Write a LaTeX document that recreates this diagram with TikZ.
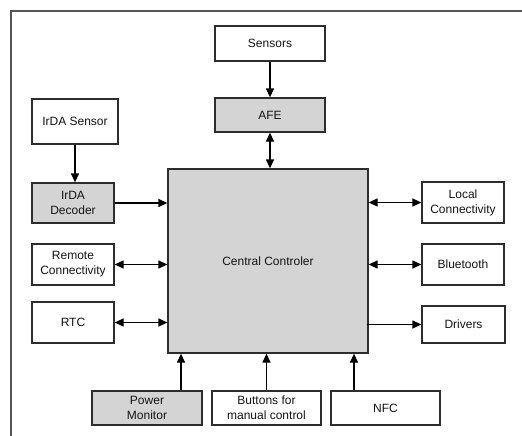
\documentclass[tikz,border=0pt]{standalone}
\usepackage{fontspec}
\setmainfont{Liberation Sans}
\usetikzlibrary{arrows.meta}
\definecolor{boxgray}{RGB}{212,212,212}
\definecolor{edge}{RGB}{45,45,45}
\definecolor{framegray}{RGB}{85,85,85}
\tikzset{
  blk/.style={draw=edge, line width=1.3pt, fill=white, align=center, inner sep=1pt,
              font=\fontsize{12}{15}\selectfont, text=black!92},
  shaded/.style={blk, fill=boxgray},
  link/.style={draw=black, line width=1.3pt, -{Triangle[length=9pt,width=8pt]}},
  bilink/.style={draw=black, line width=1.3pt, {Triangle[length=9pt,width=8pt]}-{Triangle[length=9pt,width=8pt]}},
  framestroke/.style={draw=framegray, line width=2pt}
}
\begin{document}
\begin{tikzpicture}[x=1pt, y=-1pt]
  \useasboundingbox (0,0) rectangle (522,436);
  % outer frame (only top and left edges fall inside the page)
  \draw[framestroke] (11,450) -- (11,11) -- (540,11);

  % blocks
  \node[blk, minimum width=110pt, minimum height=35pt] (sensors) at (270,43.5) {Sensors};
  \node[shaded, minimum width=110pt, minimum height=34pt] (afe) at (270,115) {AFE};
  \node[blk, minimum width=86pt, minimum height=45pt] (irsens) at (75,121.5) {IrDA Sensor};
  \node[shaded, minimum width=82pt, minimum height=40pt] (irdec) at (73,203) {IrDA\\Decoder};
  \node[shaded, minimum width=200pt, minimum height=184pt] (central) at (268,261) {Central Controler};
  \node[blk, minimum width=82pt, minimum height=41pt] (local) at (463,202.5) {Local\\Connectivity};
  \node[blk, minimum width=82pt, minimum height=41pt] (remote) at (73,264.5) {Remote\\Connectivity};
  \node[blk, minimum width=82pt, minimum height=41pt] (rtc) at (73,322.5) {RTC};
  \node[blk, minimum width=82pt, minimum height=41pt] (bt) at (463,264.5) {Bluetooth};
  \node[blk, minimum width=83pt, minimum height=37pt] (drivers) at (463.5,324.5) {Drivers};
  \node[shaded, minimum width=110pt, minimum height=34pt] (power) at (147,408) {Power\\Monitor};
  \node[blk, minimum width=109pt, minimum height=34pt] (buttons) at (266.5,408) {Buttons for\\manual control};
  \node[blk, minimum width=109pt, minimum height=34pt] (nfc) at (385.5,408) {NFC};

  % connectors
  \draw[link] (sensors.south) -- (afe.north);
  \draw[bilink] (afe.south) -- (afe.south |- central.north);
  \draw[link] (irsens.south) -- (irsens.south |- irdec.north);
  \draw[link] (irdec.east) -- (irdec.east -| central.west);
  \draw[bilink] (local.west) -- (local.west -| central.east);
  \draw[bilink] (remote.east) -- (remote.east -| central.west);
  \draw[bilink] (rtc.east) -- (rtc.east -| central.west);
  \draw[bilink] (bt.west) -- (bt.west -| central.east);
  \draw[link] ([xshift=-2pt]drivers.west -| central.east) -- (drivers.west);
  \draw[link] ([xshift=34pt]power.north) -- ([xshift=34pt]power.north |- central.south);
  \draw[link] (buttons.north) -- (buttons.north |- central.south);
  \draw[link] ([xshift=-31.5pt]nfc.north) -- ([xshift=-31.5pt]nfc.north |- central.south);
\end{tikzpicture}
\end{document}
